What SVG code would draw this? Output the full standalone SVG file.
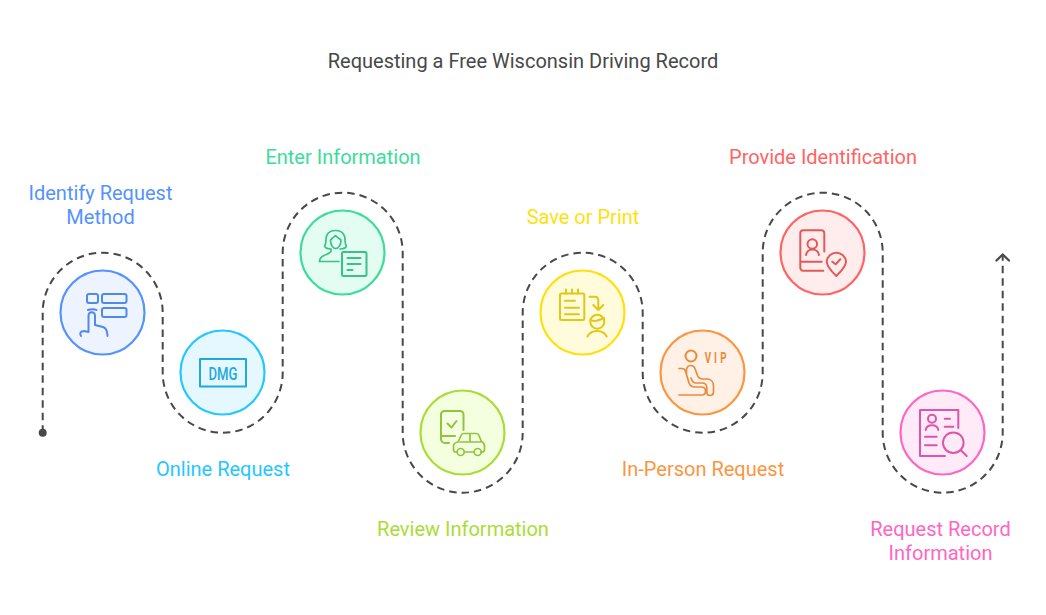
<svg xmlns="http://www.w3.org/2000/svg" width="1046" height="615" viewBox="0 0 1046 615">
<style>
text{font-family:Roboto,"Liberation Sans",sans-serif;font-size:20px;text-anchor:middle}
.title{fill:#484848}
.path{fill:none;stroke:#484848;stroke-width:2;stroke-dasharray:7.5 5}
.disc{stroke-width:2.2}
.ic{fill:none;stroke-width:2;stroke-linecap:round;stroke-linejoin:round}
.thin{stroke-width:1.7}
.glyph{font-weight:500;stroke:none}
</style>
<rect width="1046" height="615" fill="#fff"/>
<text class="title" x="523" y="68">Requesting a Free Wisconsin Driving Record</text>
<g id="connectors">
<path class="path" d="M42.700 432.700V312.700A60 60 0 0 1 162.700 312.700V372.700A60 60 0 0 0 282.700 372.700V252.700A60 60 0 0 1 402.700 252.700V432.700A60 60 0 0 0 522.700 432.700V312.700A60 60 0 0 1 642.700 312.700V372.700A60 60 0 0 0 762.700 372.700V252.700A60 60 0 0 1 882.700 252.700V432.700A60 60 0 0 0 1002.700 432.700V255"/>
<circle cx="42.700" cy="432.700" r="4" fill="#484848"/>
<path d="M996.500 260.500L1002.700 254.500L1009 260.500" fill="none" stroke="#484848" stroke-width="2.300" stroke-linecap="round" stroke-linejoin="round"/>
</g>
<g id="identify-request-method">
<circle class="disc" cx="102.500" cy="312.500" r="42" fill="#edf4ff" stroke="#5592ff"/>
<g class="ic" stroke="#4f8ae8">
<rect x="87" y="294" width="11" height="9" rx="2"/><rect x="102" y="294" width="24.500" height="9" rx="2"/><rect x="102" y="308" width="24.500" height="9" rx="2"/>
<path d="M88 310C90 309 95 309 96.500 310M81 336C79 333 81 331 84 331L88.500 332V316C88.500 311 95 311 95 316V325L103 327C106 328 107.500 331 107.500 336"/>
</g>
<text x="100.500" y="200" fill="#5592ff">Identify Request</text>
<text x="100.500" y="224" fill="#5592ff">Method</text>
</g>
<g id="online-request">
<circle class="disc" cx="222.500" cy="372.500" r="42" fill="#e6f8ff" stroke="#24c7ff"/>
<rect class="ic" x="200" y="359" width="46" height="27.500" stroke="#1fa9dd"/>
<text class="glyph" x="223" y="379.500" style="font-size:18px" fill="#1fa9dd" textLength="29" lengthAdjust="spacingAndGlyphs">DMG</text>
<text x="223" y="476" fill="#24c7ff">Online Request</text>
</g>
<g id="enter-information">
<circle class="disc" cx="342.500" cy="252.500" r="42" fill="#e4fdf2" stroke="#3cdc9a"/>
<g class="ic" stroke="#36c486">
<rect x="342" y="252" width="24.500" height="24" rx="1.500"/>
<path d="M347.500 258H360.500M347.500 264H360.500M347.500 270H352.500"/>
<path class="thin" d="M331 249C326 249 324 247 325 245C327 241 325 238 327 235C329 231 332 230.500 335.500 230.500C339 230.500 342 231 344 235C346 238 344 241 346 245C347 247 345 249 340 249M331 249V251C331 253 327 254 324 255.500C321 257 319.500 259 319.500 261.500H339M330.500 240C331 239 333 238 335.500 235.500C338 238 340 239 341 240C341 245 338.500 248.500 335.700 248.500C333 248.500 330.500 245 330.500 240Z"/>
</g>
<text x="343" y="164" fill="#3cdc9a">Enter Information</text>
</g>
<g id="review-information">
<circle class="disc" cx="462.500" cy="432.500" r="42" fill="#f3ffdf" stroke="#a9dd36"/>
<g class="ic" stroke="#94c23c">
<path d="M463.500 430V414.500A3.500 3.500 0 0 0 460 411H444.500A3.500 3.500 0 0 0 441 414.500V439A4 4 0 0 0 445 443H449M441 436H455M447.500 423.500L451.500 427.500L456.500 421"/>
<path class="thin" d="M457 452H455.500C454 452 453.500 451 453.500 449.500V446C453.500 443.500 455 442.500 458 442L461 435.500C461.500 434 462.500 433.500 464 433.500H476C477.500 433.500 478.500 434 479 435.500L481.500 441.500C483.500 442.500 484.500 444 484.500 446V449.500C484.500 451 484 452 482 452H481M464.500 452H474M460 442H481M470 434V442"/>
<circle class="thin" cx="460.700" cy="452" r="3.500"/><circle class="thin" cx="477.700" cy="452" r="3.500"/>
</g>
<text x="463" y="536" fill="#a9dd36">Review Information</text>
</g>
<g id="save-or-print">
<circle class="disc" cx="582.500" cy="312.500" r="42" fill="#fffbdb" stroke="#ffe00f"/>
<g class="ic" stroke="#e0c814">
<rect x="560" y="293.500" width="24.300" height="26.500" rx="1.500"/>
<path d="M566 289.500V293.500M572 289.500V293.500M578 289.500V293.500M565 300.700H575M565 307.700H579M565 314.300H579M589.500 296.700H595C597 296.700 598.300 298.500 598.300 301V310M593.300 305L598.300 310L603.300 305M590.500 320C594 322 600 320 604 318M587.500 336.500C591 329 603 329 606.700 336.500"/>
<circle cx="597.300" cy="321.700" r="7"/>
</g>
<text x="583" y="224" fill="#ffe00f">Save or Print</text>
</g>
<g id="in-person-request">
<circle class="disc" cx="702.500" cy="372.500" r="42" fill="#fff1e6" stroke="#fb963f"/>
<g class="ic" stroke="#e88b3c">
<circle cx="691" cy="356" r="5.500"/>
<path class="thin" d="M679 368.500H682C684 368.500 685 369.500 685.500 371L689 383C690 385.500 692 387 695 387H701C704 387 705.500 389 705.500 391C705.500 393.500 704 395 702 395H679"/>
<path class="thin" d="M686.500 373C686 369 687 365.500 690.500 365.500C693.500 365.500 695 367.500 695.500 370L697.500 375.500C698.500 378 700.500 379 703 379H707C711 379 713.500 382 713.500 386V391.500C713.500 394 712 395.500 710 395.500C708 395.500 706.800 394 706.800 392V388C706.800 385 705 383 702 383H696C693 383 692 381 691 378"/>
</g>
<text class="glyph" transform="translate(716 362.500) scale(.7 1)" x="-11.400 -.7 10.700" y="0" fill="#e88b3c" style="font-size:14px;font-weight:700">VIP</text>
<text x="703" y="476" fill="#fb963f">In-Person Request</text>
</g>
<g id="provide-identification">
<circle class="disc" cx="822.500" cy="252.500" r="42" fill="#ffecec" stroke="#ff6464"/>
<g class="ic" stroke="#e05a5a">
<path d="M824.300 251.500V233A3 3 0 0 0 821.300 230.300H803.300A3 3 0 0 0 800.300 233V268A3 3 0 0 0 803.300 270.700H823.300M800.300 261.700H821.700M806 255C807 247.500 818 247.500 819 255"/>
<circle cx="812.300" cy="244" r="4.800"/>
<path d="M836.300 276C832 271.500 826.700 267 826.700 261.500A9.700 9.700 0 0 1 846 261.500C846 267 840.500 271.500 836.300 276ZM832.300 261.700L835.700 264.300L840.300 259.300"/>
</g>
<text x="823" y="164" fill="#ff6464">Provide Identification</text>
</g>
<g id="request-record-information">
<circle class="disc" cx="942.500" cy="432.500" r="42" fill="#ffeaf8" stroke="#ff66c4"/>
<g class="ic" stroke="#dc55aa">
<path d="M958.300 428V410H920V456H945M944.700 418.700H950M944.700 426.700H953.300M925 436.700H936.700M925 445.300H936.700M925.700 430C926.500 423.500 937.500 423.500 938.300 430M960.500 450L966.700 456"/>
<circle cx="932" cy="418.700" r="4"/><circle cx="953.300" cy="442.700" r="10.300"/>
</g>
<text x="940.500" y="536" fill="#ff66c4">Request Record</text>
<text x="940.500" y="560" fill="#ff66c4">Information</text>
</g>
</svg>
